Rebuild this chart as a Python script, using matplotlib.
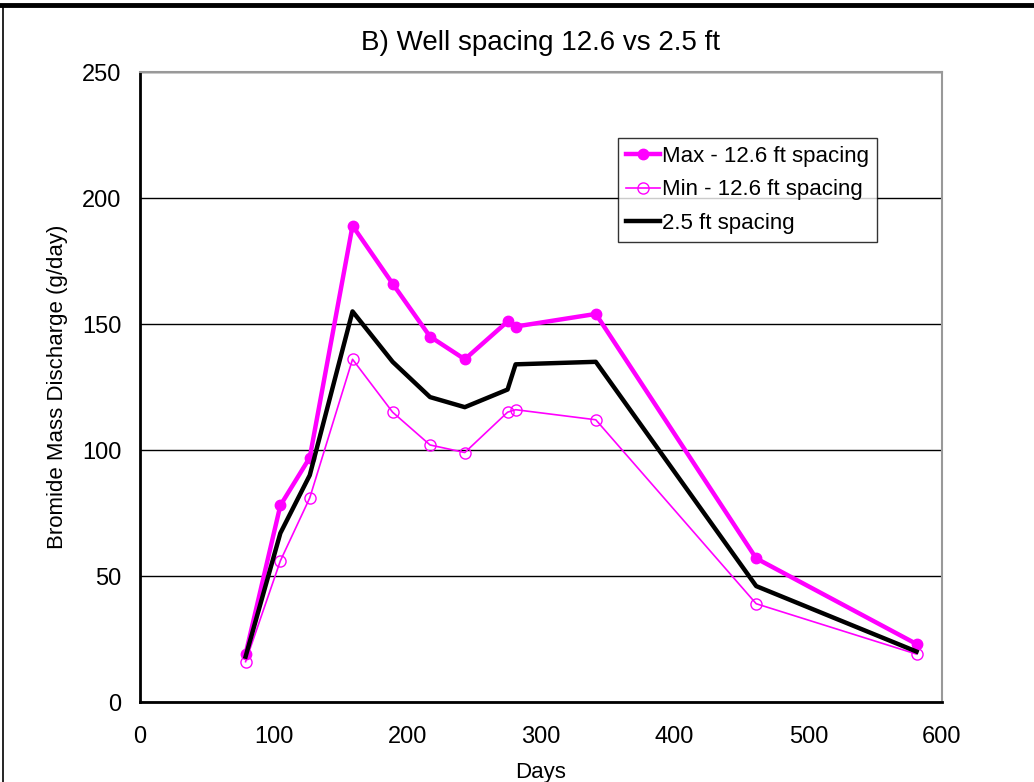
import matplotlib.pyplot as plt
from matplotlib.lines import Line2D

plt.rcParams['font.family'] = ['Liberation Sans', 'DejaVu Sans']

# Data
days = [79, 105, 127, 159, 189, 217, 243, 275, 281, 341, 461, 581]
max_126 = [19, 78, 97, 189, 166, 145, 136, 151, 149, 154, 57, 23]
min_126 = [16, 56, 81, 136, 115, 102, 99, 115, 116, 112, 39, 19]
spacing_25 = [18, 67, 90, 155, 135, 121, 117, 124, 134, 135, 46, 20]

labels = ['Max - 12.6 ft spacing', 'Min - 12.6 ft spacing', '2.5 ft spacing']
xticks = [0, 100, 200, 300, 400, 500, 600]
yticks = [0, 50, 100, 150, 200, 250]

magenta = '#FF00FF'
fs = 16

fig = plt.figure(figsize=(10.34, 7.82), dpi=100)
ax = fig.add_axes([0.1354, 0.1023, 0.7756, 0.8056])

ax.plot(days, max_126, color=magenta, linewidth=3.2, marker='o',
        markersize=7.5, label=labels[0], zorder=3)
ax.plot(days, min_126, color=magenta, linewidth=1.2, marker='o',
        markersize=8, markerfacecolor='none', markeredgewidth=1.0,
        label=labels[1], zorder=3)
ax.plot(days, spacing_25, color='black', linewidth=3.2, label=labels[2], zorder=3)

ax.set_xlim(0, 600)
ax.set_ylim(0, 250)
ax.set_xticks(xticks)
ax.set_yticks(yticks)
ax.tick_params(length=0, labelsize=17)
ax.tick_params(axis='x', pad=17)
ax.tick_params(axis='y', pad=13.5)
ax.grid(axis='y', color='black', linewidth=1.0)
ax.set_axisbelow(True)

for side in ['left', 'bottom']:
    ax.spines[side].set_linewidth(2)
    ax.spines[side].set_color('black')
for side in ['top', 'right']:
    ax.spines[side].set_linewidth(1.5)
    ax.spines[side].set_color('#999999')

ax.set_title('B) Well spacing 12.6 vs 2.5 ft', fontsize=20, pad=16)
ax.set_xlabel('Days', fontsize=fs, labelpad=10)
ax.set_ylabel('Bromide Mass Discharge (g/day)', fontsize=fs, labelpad=10)

leg = ax.legend(loc='upper left', bbox_to_anchor=(0.596, 0.895), fontsize=fs,
                frameon=True, fancybox=False, borderpad=0.35, labelspacing=0.56,
                handlelength=1.55, handletextpad=0.1, borderaxespad=0)
leg.get_frame().set_edgecolor('black')
leg.get_frame().set_linewidth(1.0)

# figure border (top and left)
fig.add_artist(Line2D([0, 1], [0.9935, 0.9935], color='black', linewidth=3.5,
                      transform=fig.transFigure))
fig.add_artist(Line2D([0.003, 0.003], [0, 0.9935], color='black', linewidth=1.2,
                      transform=fig.transFigure))

fig.savefig('out.png', dpi=100)
